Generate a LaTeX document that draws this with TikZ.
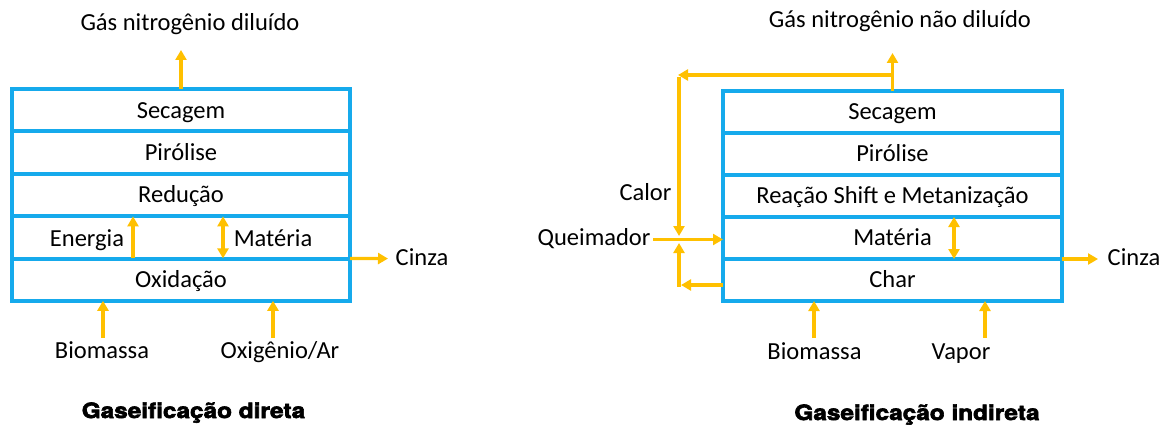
\documentclass[tikz,border=0pt]{standalone}
\usepackage{fontspec}
\setmainfont{Carlito}
\newfontfamily\titlefont{TeX Gyre Heros}[BoldFeatures={FakeBold=3,FakeStretch=1.16}]
\usetikzlibrary{arrows.meta}
\definecolor{stageblue}{RGB}{22,170,236}
\definecolor{flowgold}{RGB}{255,192,0}

\begin{document}
\begin{tikzpicture}[x=1pt,y=-1pt,
  txt/.style={font=\fontsize{24.5}{26}\selectfont, text height=15.8pt, text depth=0pt},
  stage/.style={txt, draw=stageblue, line width=3.5pt, minimum height=42pt,
                inner sep=0pt, outer sep=0pt},
  lbl/.style={txt, inner sep=0pt, outer sep=0pt},
  caption/.style={inner sep=0pt, font=\titlefont\bfseries\fontsize{21}{24}\selectfont,
                  text height=15pt, text depth=0pt},
  tip/.tip={Triangle[width=11pt,length=10pt]},
  pipe/.style={draw=flowgold, line width=3.2pt},
  flow/.style={pipe, -tip},
  flowboth/.style={pipe, tip-tip}]

\useasboundingbox (0,0) rectangle (1173,425);

% ---------------- direct gasification ----------------
\node[stage, minimum width=338pt] (a1) at (181,110.2) {Secagem};
\node[stage, minimum width=338pt] (a2) at (181,152.6) {Pirólise};
\node[stage, minimum width=338pt] (a3) at (181,195.0) {Redução};
\node[stage, minimum width=338pt] (a4) at (181,237.4) {};
\node[stage, minimum width=338pt] (a5) at (181,279.8) {Oxidação};

\node[lbl] (aen) at (87,238.5) {Energia};
\node[lbl] (ama) at (273,238.5) {Matéria};
\node[lbl] (agas) at (190,22.5) {Gás nitrogênio diluído};
\node[lbl] (acz) at (422,258) {Cinza};
\node[lbl] (abio) at (102,351) {Biomassa};
\node[lbl] (aoxy) at (280,351) {Oxigênio/Ar};
\node[caption] (at) at (193.5,410.5) {Gaseificação direta};

\coordinate (agasend) at (181,50);
\coordinate (aczend) at (388,258.6);

\draw[flow] (a1.north) -- (agasend);
\draw[flow] ([xshift=-48pt]a4.south) -- ([xshift=-48pt]a4.north);
\draw[flowboth] ([xshift=42pt]a4.south) -- ([xshift=42pt]a4.north);
\draw[flow] (a4.south east) -- (aczend);
\draw[flow] ([xshift=-78pt,yshift=-37pt]a5.south) -- ([xshift=-78pt]a5.south);
\draw[flow] ([xshift=92pt,yshift=-37pt]a5.south) -- ([xshift=92pt]a5.south);

% ---------------- indirect gasification ----------------
\node[stage, minimum width=339pt] (b1) at (892.5,112) {Secagem};
\node[stage, minimum width=339pt] (b2) at (892.5,154) {Pirólise};
\node[stage, minimum width=339pt] (b3) at (892.5,196) {Reação Shift e Metanização};
\node[stage, minimum width=339pt] (b4) at (892.5,238) {Matéria};
\node[stage, minimum width=339pt] (b5) at (892.5,280) {Char};

\node[lbl] (bgas) at (900,19.5) {Gás nitrogênio não diluído};
\node[lbl] (bcz) at (1134,258) {Cinza};
\node[lbl] (bbio) at (814.5,352) {Biomassa};
\node[lbl] (bvap) at (961,352) {Vapor};
\node[lbl] (bcal) at (645.5,193) {Calor};
\node[lbl] (bq) at (594,238) {Queimador};
\node[caption] (bt) at (917,412.5) {Gaseificação indireta};

\coordinate (bgasend) at (892.5,53);
\coordinate (bsplit) at (892.5,75);
\coordinate (bcorner) at (679,75);
\coordinate (bdown) at (679,236);
\coordinate (bq0) at (653,239.5);
\coordinate (bret) at (679,285);
\coordinate (bup) at (679,243);
\coordinate (bczend) at (1098,259);

\draw[flow] (b1.north) -- (bgasend);
\draw[flow] (bsplit) -- ([xshift=-1pt]bcorner);
\draw[flow] ([yshift=-1.6pt]bcorner) -- (bdown);
\draw[flow] (bq0) -- (bq0 -| b4.west);
\draw[flow] (bret -| b5.west) -- ([xshift=2pt]bret);
\draw[flow] ([yshift=-1.6pt]bret) -- (bup);
\draw[flowboth] ([xshift=61.5pt]b4.south) -- ([xshift=61.5pt]b4.north);
\draw[flow] (b4.south east) -- (bczend);
\draw[flow] ([xshift=-78.5pt,yshift=-37pt]b5.south) -- ([xshift=-78.5pt]b5.south);
\draw[flow] ([xshift=92.5pt,yshift=-37pt]b5.south) -- ([xshift=92.5pt]b5.south);
\end{tikzpicture}
\end{document}
